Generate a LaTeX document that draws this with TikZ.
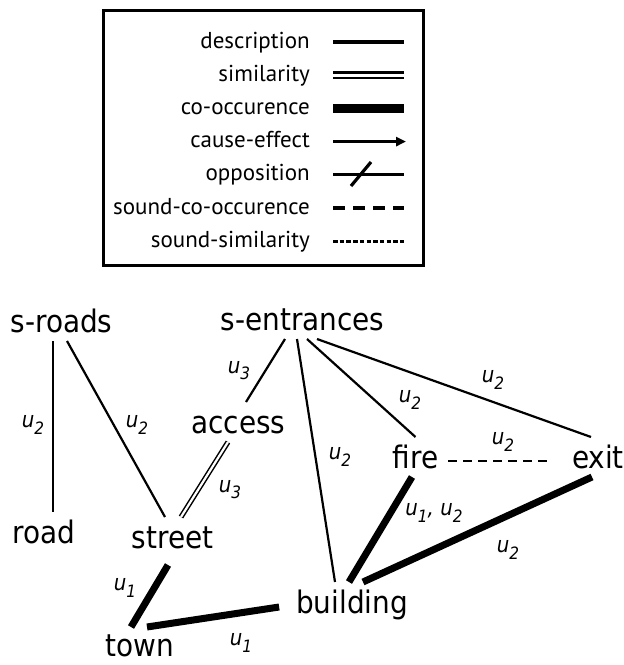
\documentclass[tikz,border=0pt]{standalone}
\usepackage{fontspec}
\setmainfont{DejaVuSansCondensed}[Extension=.ttf, ItalicFont=*-Oblique]
\newfontfamily\legendfont{PT Sans}
\usepackage{tikz}
\usetikzlibrary{arrows.meta}

\newcommand{\usub}[1]{u\raisebox{-0.28em}{\fontsize{17}{17}\selectfont #1}}

\begin{document}
\begin{tikzpicture}
[x=1pt, y=-1pt]
\tikzset{
	word/.style = {font=\fontsize{31}{31}\selectfont, anchor=base, inner sep=0pt, outer xsep=10pt, outer ysep=9pt, text height=22pt, text depth=0pt},
	ulabel/.style = {font=\fontsize{22}{22}\selectfont\itshape, inner sep=0pt},
	desc/.style = {line width=2.2pt},
	simil/.style = {double, double distance=2.2pt, line width=1.5pt},
	cooc/.style = {line width=7pt},
	sndcooc/.style = {line width=2.2pt, dash pattern=on 9pt off 6pt},
	legtext/.style = {font=\legendfont\fontsize{23}{23}\selectfont, anchor=base east, inner sep=0pt},
	legdesc/.style = {line width=3.2pt},
	legsimil/.style = {double, double distance=2.6pt, line width=2.8pt},
	legcooc/.style = {line width=9pt},
	legcause/.style = {line width=3.2pt, -{Triangle[length=10pt, width=9pt]}, shorten >=-2pt},
	legsndcooc/.style = {line width=3.2pt, dash pattern=on 11.5pt off 8.5pt},
	legsndsim/.style = {line width=3.2pt, dash pattern=on 4.5pt off 2.2pt}
}
\useasboundingbox (0,0) rectangle (624,665);

% legend
\draw[line width=3pt] (103,10) rectangle (423,265);
\foreach \txt/\sty [count=\i from 0] in {description/legdesc, similarity/legsimil, co-occurence/legcooc, cause-effect/legcause, opposition/legdesc, sound-co-occurence/legsndcooc, sound-similarity/legsndsim}
{
	\node[legtext] (leg\i) at (310, {48+33.2*\i}) {\txt};
	\draw[\sty] (333, {42+33.2*\i}) -- (404, {42+33.2*\i});
}
\draw[legdesc] (351,186) -- (371,162);

% words
\node[word] (sroads) at (61.5,332) {s-roads};
\node[word] (sentr) at (302.5,330) {s-entrances};
\node[word] (access) at (238.5,433) {access};
\node[word] (road) at (44,543) {road};
\node[word] (street) at (172.5,548) {street};
\node[word] (fire) at (415.5,468) {fire};
\node[word] (exit) at (598,468) {exit};
\node[word] (building) at (352,613) {building};
\node[word, outer ysep=2pt] (town) at (139.5,656) {town};

% relations
\draw[desc] ([xshift=-8.5pt]sroads.south) -- ([xshift=9pt]road.north);
\draw[desc] ([xshift=5.5pt]sroads.south) -- ([xshift=-7.5pt]street.north);
\draw[desc] ([xshift=-17.5pt]sentr.south) -- ([xshift=7.5pt]access.north);
\draw[simil] ([xshift=-10.5pt]access.south) -- ([xshift=8.5pt]street.north);
\draw[desc] ([xshift=-5.5pt]sentr.south) -- ([xshift=-17pt]building.north);
\draw[desc] ([xshift=4.5pt]sentr.south) -- (fire.north);
\draw[desc] ([xshift=14.5pt]sentr.south) -- ([xshift=-7pt]exit.north);
\draw[sndcooc] ([yshift=-4pt]fire.east) -- ([xshift=-9pt, yshift=-4pt]exit.west);
\draw[cooc] ([xshift=-3.5pt]fire.south) -- ([xshift=-3pt]building.north);
\draw[cooc] ([xshift=-6pt]exit.south) -- ([xshift=11pt]building.north);
\draw[cooc] ([xshift=-4.5pt, yshift=-8pt]street.south) -- ([xshift=-8.5pt, yshift=5pt]town.north);
\draw[cooc] ([xshift=7.5pt, yshift=5pt]town.north) -- ([xshift=-7pt, yshift=-5pt]building.west);

% labels
\node[ulabel] (l1) at (33,425) {\usub{2}};
\node[ulabel] (l2) at (137,425) {\usub{2}};
\node[ulabel] (l3) at (239,371) {\usub{3}};
\node[ulabel] (l4) at (230,490) {\usub{3}};
\node[ulabel] (l5) at (340,457) {\usub{2}};
\node[ulabel] (l6) at (410,400) {\usub{2}};
\node[ulabel] (l7) at (493,380) {\usub{2}};
\node[ulabel] (l8) at (503,442) {\usub{2}};
\node[ulabel] (l9) at (434,513) {\usub{1}, \usub{2}};
\node[ulabel] (l10) at (508,550) {\usub{2}};
\node[ulabel] (l11) at (125,588) {\usub{1}};
\node[ulabel] (l12) at (241,643) {\usub{1}};
\end{tikzpicture}
\end{document}
